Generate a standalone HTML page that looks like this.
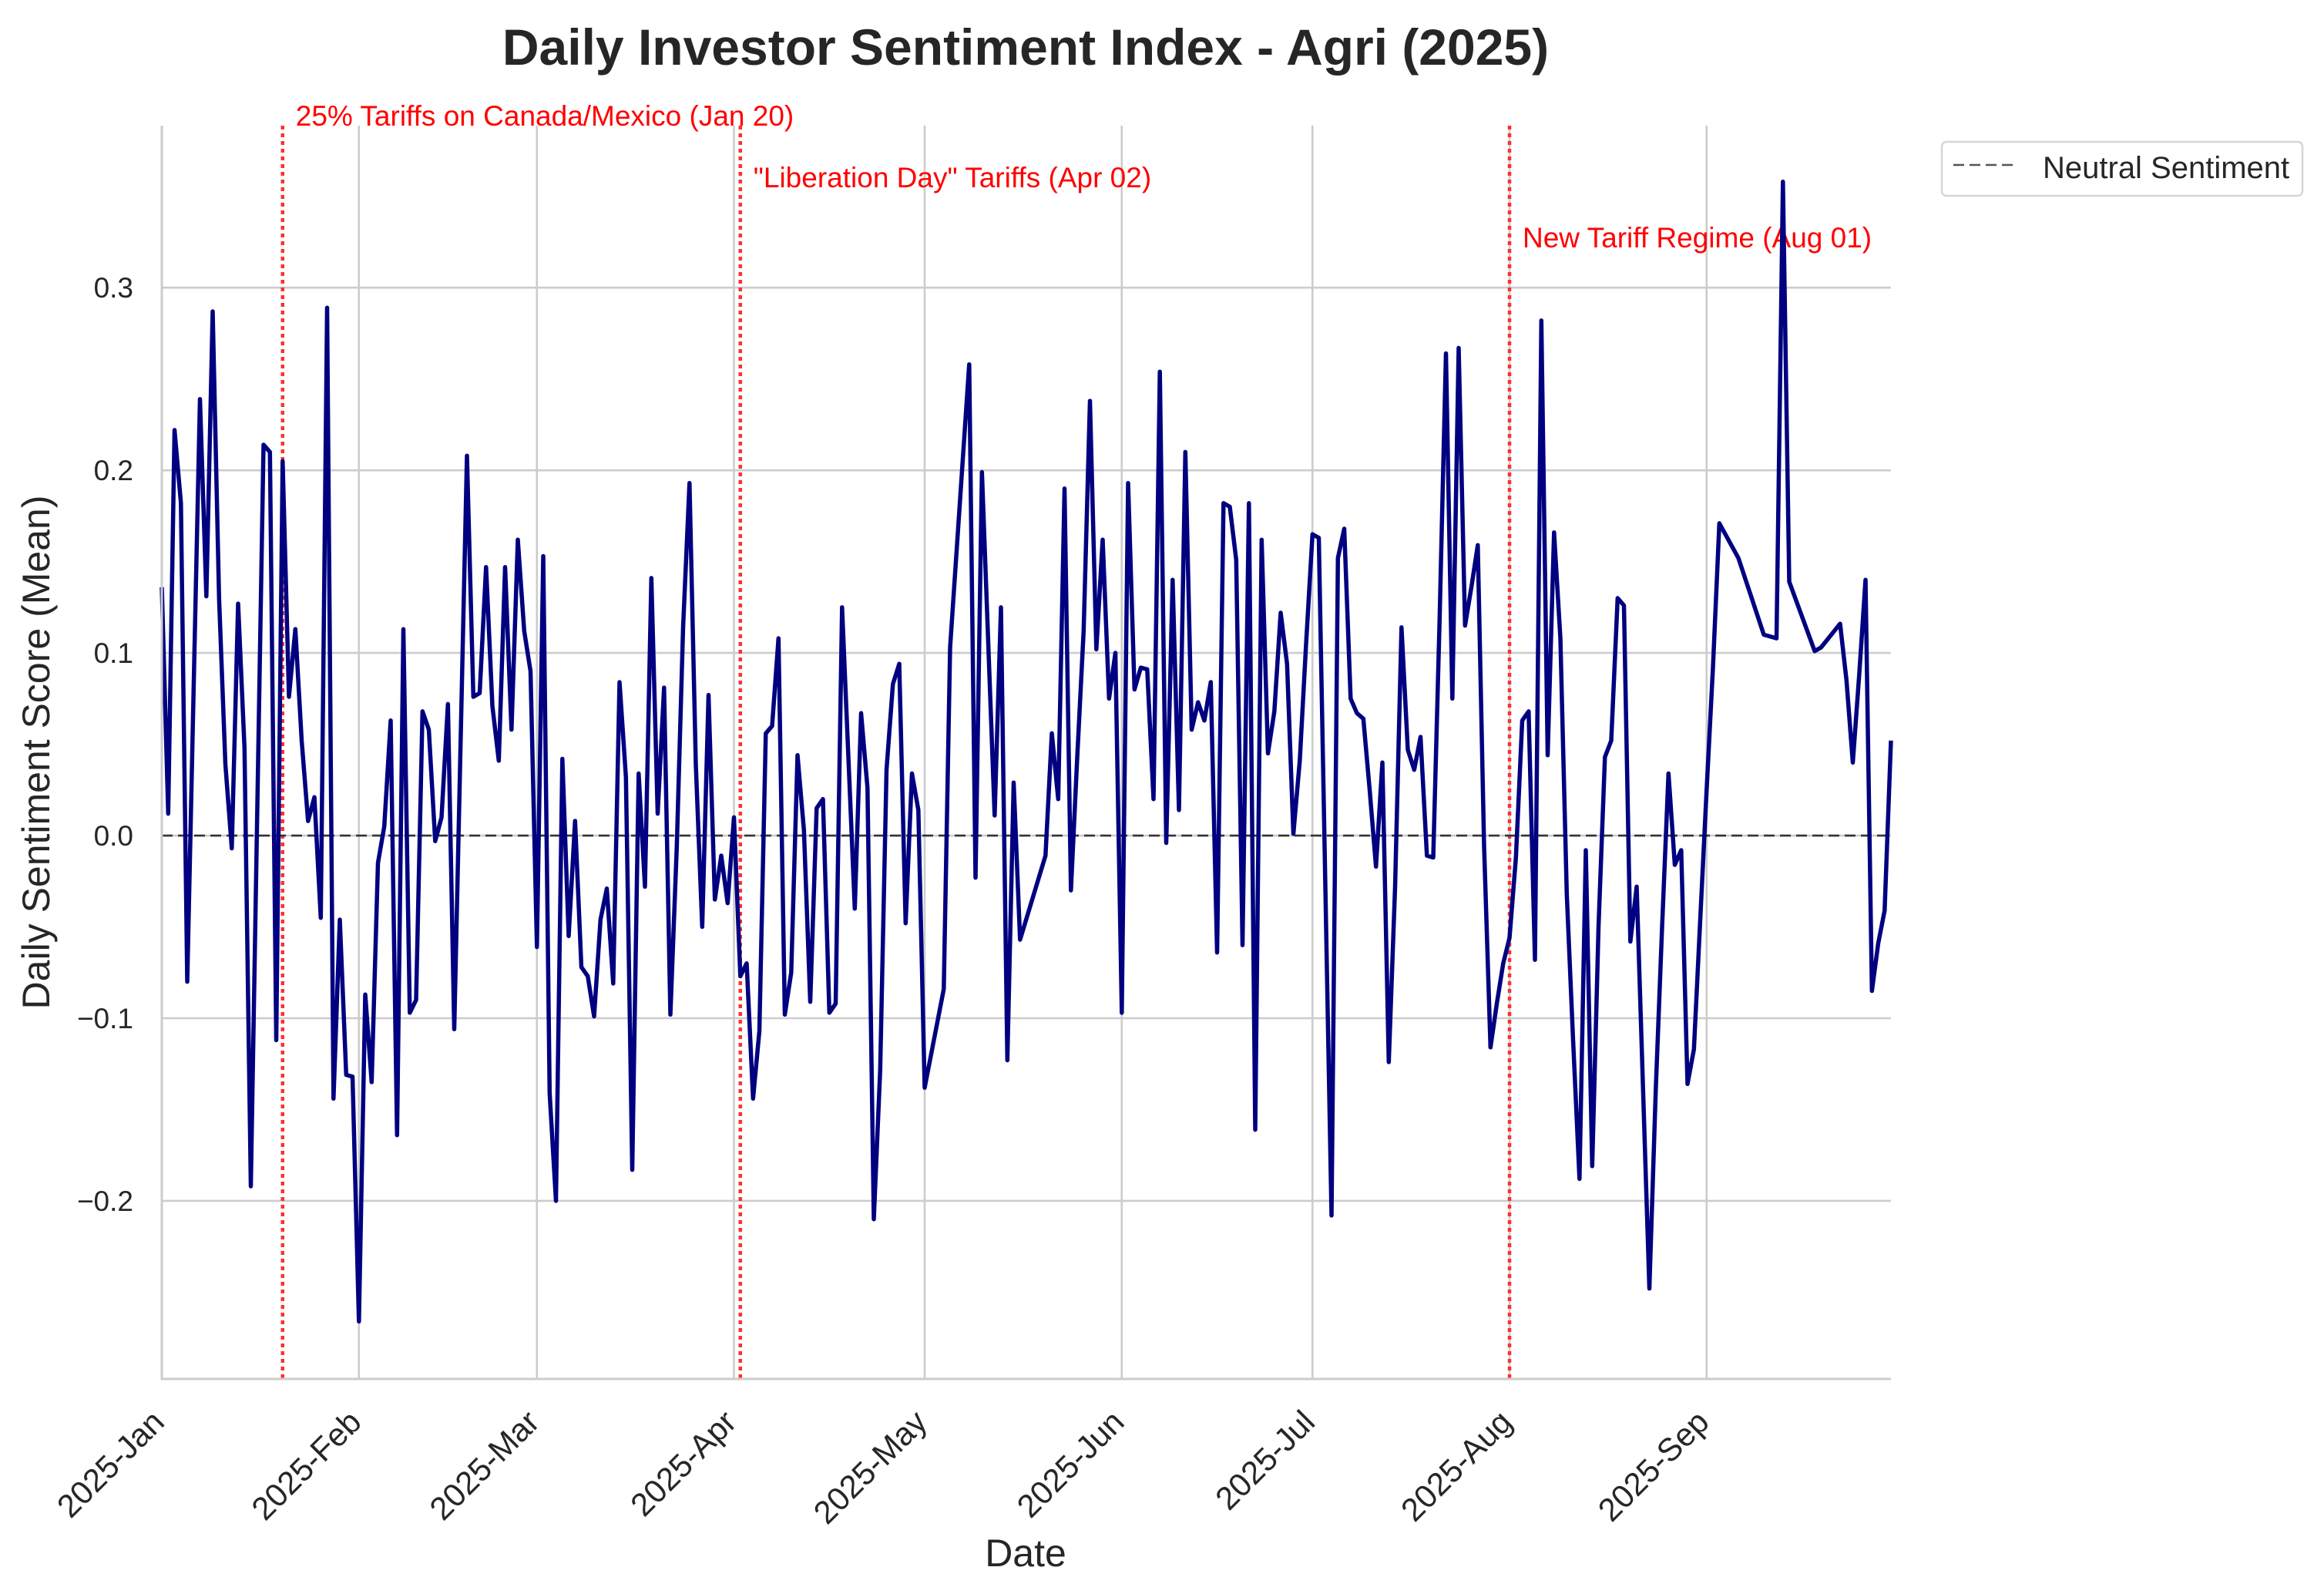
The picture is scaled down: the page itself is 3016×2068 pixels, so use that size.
<!DOCTYPE html>
<html><head><meta charset="utf-8">
<style>
html,body{margin:0;padding:0;background:#fff;}
svg{display:block;font-family:"Liberation Sans",Arial,sans-serif;}
</style></head>
<body>
<svg id="chart" width="3016" height="2068" viewBox="0 0 3016 2068" xmlns="http://www.w3.org/2000/svg">
<rect width="3016" height="2068" fill="#fff"/>
<g id="grid"></g>
<g id="events"></g>
<line id="neutral" stroke="#333" stroke-width="2.6" stroke-dasharray="14,7"/>
<g id="series"></g>
<g id="axes"></g>
<text x="1331" y="84" text-anchor="middle" font-size="66" font-weight="bold" fill="#262626">Daily Investor Sentiment Index - Agri (2025)</text>
<text x="1331" y="2032" text-anchor="middle" font-size="50" fill="#262626">Date</text>
<text transform="translate(64,976) rotate(-90)" text-anchor="middle" font-size="50" fill="#262626">Daily Sentiment Score (Mean)</text>
<g>
<rect x="2520" y="184" width="468" height="70" rx="6" fill="#fff" stroke="#d6d6d6" stroke-width="2.5"/>
<line x1="2535" y1="214" x2="2617" y2="214" stroke="#555" stroke-width="2.6" stroke-dasharray="14,7"/>
<text x="2651" y="231" font-size="40" fill="#262626">Neutral Sentiment</text>
</g>
</svg>
<script>
const days = [0,1,2,3,4,6,7,8,9,10,11,12,13,14,16,17,18,19,20,21,22,23,24,25,26,27,28,29,30,31,32,33,34,35,36,37,38,39,40,41,42,43,44,45,46,48,49,50,51,52,53,54,55,56,57,58,59,60,61,62,63,64,65,66,67,68,69,70,71,72,73,74,75,76,77,78,79,80,81,82,83,84,85,86,87,88,89,90,91,92,93,94,95,96,97,98,99,100,101,102,103,104,105,106,107,109,110,111,112,113,114,115,116,117,118,119,120,123,124,127,128,129,131,132,133,134,135,139,140,141,142,143,144,145,146,147,148,149,150,151,152,153,154,155,156,157,158,159,160,161,162,163,164,165,166,167,168,169,170,171,172,173,174,175,176,177,178,179,180,181,182,184,185,186,187,188,189,190,191,192,193,194,195,196,197,198,199,200,201,202,203,204,205,206,207,208,209,210,211,212,213,214,215,216,217,218,219,220,221,222,223,224,225,226,227,228,229,230,231,232,233,234,235,236,237,238,239,240,241,242,243,244,245,248,252,254,255,256,260,261,264,265,266,267,268,269,270,271,272];
const values = [0.136,0.012,0.222,0.182,-0.080,0.239,0.131,0.287,0.13,0.039,-0.007,0.127,0.048,-0.192,0.214,0.210,-0.112,0.205,0.076,0.113,0.052,0.008,0.021,-0.045,0.289,-0.144,-0.046,-0.131,-0.132,-0.266,-0.087,-0.135,-0.015,0.005,0.063,-0.164,0.113,-0.097,-0.090,0.068,0.058,-0.003,0.010,0.072,-0.106,0.208,0.076,0.078,0.147,0.071,0.041,0.147,0.058,0.162,0.112,0.090,-0.061,0.153,-0.141,-0.200,0.042,-0.055,0.008,-0.072,-0.077,-0.099,-0.046,-0.029,-0.081,0.084,0.032,-0.183,0.034,-0.028,0.141,0.012,0.081,-0.098,-0.006,0.114,0.193,0.039,-0.050,0.077,-0.035,-0.011,-0.037,0.010,-0.077,-0.070,-0.144,-0.107,0.056,0.060,0.108,-0.098,-0.075,0.044,0.003,-0.091,0.015,0.020,-0.097,-0.092,0.125,-0.040,0.067,0.026,-0.210,-0.128,0.036,0.083,0.094,-0.048,0.034,0.014,-0.138,-0.084,0.103,0.258,-0.023,0.199,0.011,0.125,-0.123,0.029,-0.057,-0.011,0.056,0.020,0.190,-0.030,0.043,0.112,0.238,0.102,0.162,0.075,0.100,-0.097,0.193,0.080,0.092,0.091,0.020,0.254,-0.004,0.140,0.014,0.210,0.058,0.073,0.063,0.084,-0.064,0.182,0.180,0.151,-0.060,0.182,-0.161,0.162,0.045,0.068,0.122,0.094,0.001,0.041,0.105,0.165,0.163,-0.208,0.152,0.168,0.075,0.067,0.064,0.025,-0.017,0.040,-0.124,-0.028,0.114,0.047,0.036,0.054,-0.011,-0.012,0.119,0.264,0.075,0.267,0.115,0.136,0.159,-0.006,-0.116,-0.092,-0.070,-0.056,-0.012,0.063,0.068,-0.068,0.282,0.044,0.166,0.108,-0.032,-0.112,-0.188,-0.008,-0.181,-0.050,0.043,0.052,0.130,0.126,-0.058,-0.028,-0.139,-0.248,-0.139,-0.050,0.034,-0.016,-0.008,-0.136,-0.117,-0.046,0.025,0.092,0.171,0.152,0.110,0.108,0.358,0.139,0.101,0.103,0.116,0.085,0.040,0.088,0.140,-0.085,-0.059,-0.041,0.052];
const yTicks = [-0.2,-0.1,0,0.1,0.2,0.3];
const monthDays = [0,31,59,90,120,151,181,212,243];
const monthLabels = ["2025-Jan","2025-Feb","2025-Mar","2025-Apr","2025-May","2025-Jun","2025-Jul","2025-Aug","2025-Sep"];
const eventDays = [19,91,212];
const eventLabels = ["25% Tariffs on Canada/Mexico (Jan 20)","\"Liberation Day\" Tariffs (Apr 02)","New Tariff Regime (Aug 01)"];
const eventLabelY = [0.3888,0.355,0.322];

const NS="http://www.w3.org/2000/svg";
const L=210,R=2454,T=163,B=1789;
const xMin=0,xMax=272,yMin=-0.2975,yMax=0.3887;
const xs=d=>L+(d-xMin)/(xMax-xMin)*(R-L);
const ys=v=>B-(v-yMin)/(yMax-yMin)*(B-T);
function mk(tag,attrs,parent){const e=document.createElementNS(NS,tag);for(const k in attrs)e.setAttribute(k,attrs[k]);parent.appendChild(e);return e;}
const grid=document.getElementById('grid'),axes=document.getElementById('axes'),ev=document.getElementById('events'),ser=document.getElementById('series');
yTicks.forEach((t,i)=>{
  const g=mk('line',{x1:L,x2:R,y1:ys(t),y2:ys(t),stroke:'#cccccc','stroke-width':2.6},grid);
  
  
  const tx=mk('text',{x:L-37,y:ys(t)+13,'text-anchor':'end','font-size':37,fill:'#262626'},axes);
  tx.textContent=(t<0?'\u2212':'')+Math.abs(t).toFixed(1);
  
  
});
monthDays.forEach((d,i)=>{
  const g=mk('line',{x1:xs(d),x2:xs(d),y1:T,y2:B,stroke:'#cccccc','stroke-width':2.6},grid);
  
  
  const x=xs(d)-16,y=1826;
  const tx=mk('text',{x:x,y:y,'text-anchor':'end','font-size':42,fill:'#262626',transform:`rotate(-45 ${x} ${y})`,'dominant-baseline':'hanging'},axes);
  tx.textContent=monthLabels[i];
  
  
});
const sp1=mk('line',{x1:L,x2:L,y1:T,y2:B+1.5,stroke:'#cccccc','stroke-width':3},axes);


const sp2=mk('line',{x1:L-1.5,x2:R,y1:B,y2:B,stroke:'#cccccc','stroke-width':3},axes);


const n=document.getElementById('neutral');
n.setAttribute('x1',L);n.setAttribute('x2',R);n.setAttribute('y1',ys(0));n.setAttribute('y2',ys(0));
eventDays.forEach((d,i)=>{
  const l=mk('line',{x1:xs(d),x2:xs(d),y1:T,y2:B,stroke:'#ff3030','stroke-width':4.5,'stroke-dasharray':'5,5'},ev);
  
  
  const t=mk('text',{x:xs(d)+17,y:ys(eventLabelY[i]),'font-size':37,fill:'#ff0000'},ev);
  t.textContent=eventLabels[i];
  
  
});
const pts=days.map((d,i)=>xs(d).toFixed(1)+','+ys(values[i]).toFixed(1)).join(' ');
const pl=mk('polyline',{points:pts,fill:'none',stroke:'#000080','stroke-width':5.5,'stroke-linejoin':'round'},ser);


</script>
</body></html>
